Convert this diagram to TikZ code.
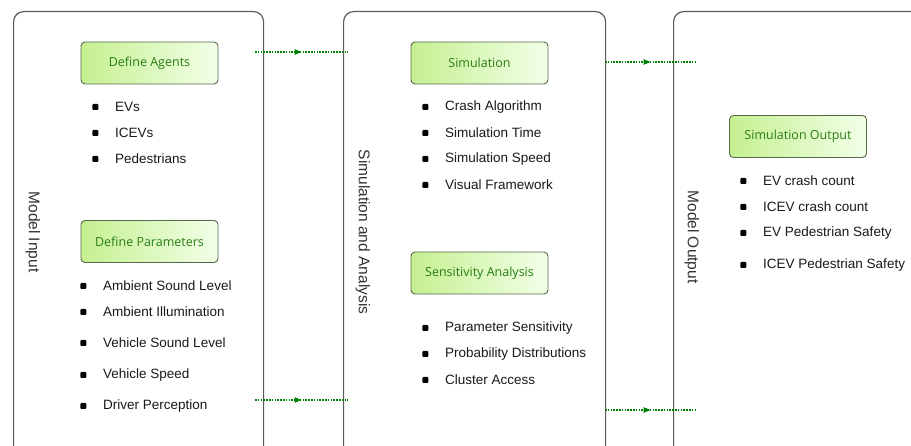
\documentclass[tikz,border=0pt]{standalone}
\usepackage{fontspec}
\setmainfont{Liberation Sans}
\newfontfamily\stagefont{Open Sans}
\usepackage{tikz}
\usetikzlibrary{arrows.meta,decorations.markings}
\definecolor{framegray}{RGB}{90, 90, 90}
\definecolor{stageedge}{RGB}{85, 105, 75}
\definecolor{stagetext}{RGB}{40, 125, 20}
\definecolor{stagefillA}{RGB}{198, 240, 145}
\definecolor{stagefillB}{RGB}{242, 255, 232}
\definecolor{flowgreen}{RGB}{0, 128, 0}
\tikzstyle{panel}=[draw=framegray, line width=1.2pt, rounded corners=10pt, anchor=north west]
\tikzstyle{side}=[rotate=-90, text=black!80, font=\fontsize{15.5}{18}\selectfont]
\tikzstyle{stage}=[rectangle, draw=stageedge, line width=0.9pt, rounded corners=4pt, left color=stagefillA, right color=stagefillB, minimum width=137pt, minimum height=42pt, text=stagetext, font=\stagefont\fontsize{12.5}{15}\selectfont]
\tikzstyle{itemdot}=[rectangle, fill=black, rounded corners=1pt, minimum size=6pt, inner sep=0pt]
\tikzstyle{item}=[anchor=west, inner sep=0pt, text=black!90, font=\fontsize{13.5}{16}\selectfont, label={[itemdot, label distance=16.5pt]left:}]
\tikzstyle{flow}=[color=flowgreen, line width=1.3pt, dash pattern=on 1.5pt off 1.3pt, postaction={decorate}, decoration={markings, mark=at position 0.5 with {\arrow{Triangle[length=7pt, width=5.5pt]}}}]

\begin{document}
\begin{tikzpicture}[x=1pt, y=-1pt]
    \useasboundingbox (0,0) rectangle (911,446);
    \clip (0,0) rectangle (911,446);

    % Three stage panels
    \node[panel, minimum width=250pt, minimum height=470pt] (input) at (13,11) {};
    \node[panel, minimum width=262pt, minimum height=470pt] (analysis) at (343,11) {};
    \node[panel, minimum width=260pt, minimum height=470pt] (output) at (673,11) {};

    \node[side] (inputlbl) at (33,232) {Model Input};
    \node[side] (analysislbl) at (363,232) {Simulation and Analysis};
    \node[side] (outputlbl) at (692,237) {Model Output};

    % Green headers
    \node[stage] (agents) at (149.5,63) {Define Agents};
    \node[stage] (params) at (149.5,241.5) {Define Parameters};
    \node[stage] (sim) at (479.5,63) {Simulation};
    \node[stage] (sens) at (479.5,273) {Sensitivity Analysis};
    \node[stage] (simout) at (798,136.5) {Simulation Output};

    % Bullet lists
    \node[item] (evs) at (115,107) {EVs};
    \node[item] (icevs) at (115,133) {ICEVs};
    \node[item] (peds) at (115,159) {Pedestrians};

    \node[item] (ambsound) at (103,286) {Ambient Sound Level};
    \node[item] (ambillum) at (103,312) {Ambient Illumination};
    \node[item] (vehsound) at (103,343) {Vehicle Sound Level};
    \node[item] (vehspeed) at (103,375) {Vehicle Speed};
    \node[item] (driver) at (103,406) {Driver Perception};

    \node[item] (crash) at (445,107) {Crash Algorithm};
    \node[item] (simtime) at (445,133) {Simulation Time};
    \node[item] (simspeed) at (445,159) {Simulation Speed};
    \node[item] (visual) at (445,185) {Visual Framework};

    \node[item] (paramsens) at (445,328) {Parameter Sensitivity};
    \node[item] (probdist) at (445,354) {Probability Distributions};
    \node[item] (cluster) at (445,380) {Cluster Access};

    \node[item] (evcrash) at (763,181) {EV crash count};
    \node[item] (icevcrash) at (763,207) {ICEV crash count};
    \node[item] (evsafety) at (763,233) {EV Pedestrian Safety};
    \node[item] (icevsafety) at (763,265) {ICEV Pedestrian Safety};

    % Flow between panels
    \coordinate (f1a) at (255,52);
    \coordinate (f1b) at (348,52);
    \coordinate (f2a) at (255,400);
    \coordinate (f2b) at (348,400);
    \coordinate (f3a) at (605,62);
    \coordinate (f3b) at (696,62);
    \coordinate (f4a) at (605,410);
    \coordinate (f4b) at (696,410);

    \draw[flow] (f1a) -- (f1b);
    \draw[flow] (f2a) -- (f2b);
    \draw[flow] (f3a) -- (f3b);
    \draw[flow] (f4a) -- (f4b);

\end{tikzpicture}
\end{document}
